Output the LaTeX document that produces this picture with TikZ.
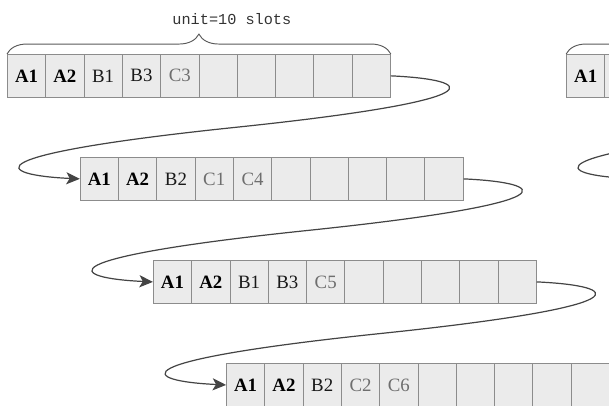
\documentclass[tikz,border=0pt]{standalone}
\usepackage{fontspec}
\setmainfont{Liberation Serif}
\newfontfamily\slotmono{Liberation Mono}
\usetikzlibrary{arrows.meta,calc,decorations.pathreplacing}

\definecolor{slotfill}{HTML}{EBEBEB}
\definecolor{slotline}{HTML}{8C8C8C}
\definecolor{linkline}{HTML}{444444}
\definecolor{ctext}{HTML}{6E6E6E}

\tikzset{
	slot/.style={draw=slotline, fill=slotfill, line width=0.6pt, inner sep=0pt,
		minimum width=1cm, minimum height=1.12cm, anchor=north west,
		font=\fontsize{14}{16}\selectfont},
	sa/.style={font=\fontsize{14}{16}\selectfont\bfseries},
	sb/.style={text=black!90},
	sc/.style={text=ctext},
	se/.style={},
	link/.style={draw=linkline, line width=0.9pt, -{Stealth[length=10pt,width=9pt,inset=2.5pt]}},
	unitbrace/.style={draw=black!65, line width=0.7pt, decorate,
		decoration={brace, amplitude=0.52cm}},
}

% ten slots in a row, named <prefix>-1 ... <prefix>-10
\newcommand{\slotrow}[3]{%
	\foreach \k/\t [count=\i] in {#3}
		\node[slot,s\k] (#1-\i) at ($(#2)+(\i-1,0)$) {\t};
}

\begin{document}
\begin{tikzpicture}
	\useasboundingbox (-0.183,1.41) rectangle (15.718,-9.19);
	\clip (-0.183,1.41) rectangle (15.718,-9.19);

	% first unit
	\slotrow{p}{0,0}{a/A1,a/A2,b/B1,b/B3,c/C3,e/,e/,e/,e/,e/}
	\slotrow{q}{1.9,-2.69}{a/A1,a/A2,b/B2,c/C1,c/C4,e/,e/,e/,e/,e/}
	\slotrow{r}{3.81,-5.38}{a/A1,a/A2,b/B1,b/B3,c/C5,e/,e/,e/,e/,e/}
	\slotrow{s}{5.72,-8.07}{a/A1,a/A2,b/B2,c/C2,c/C6,e/,e/,e/,e/,e/}

	% next unit, cut off at the right
	\slotrow{u}{14.6,0}{a/A1,e/,e/,e/,e/,e/,e/,e/,e/,e/}
	\slotrow{v}{16.5,-2.69}{e/,e/,e/,e/,e/,e/,e/,e/,e/,e/}

	\draw[unitbrace] (p-1.north west) -- (p-10.north east);
	\draw[unitbrace] (u-1.north west) -- (u-10.north east);
	\node[font=\slotmono\fontsize{11.3}{13}\selectfont, text=black!80] (unitlbl) at (5.87,0.91) {unit=10 slots};

	% wrap each row into the next one
	\foreach \a/\b in {p/q,q/r,r/s,u/v}
		\draw[link] (\a-10.east) .. controls +(2.2,-0.1) and +(7,0.73) .. ($(\a-10.east)!0.5!(\b-1.west)$)
			.. controls +(-7,-0.73) and +(-2.2,0.1) .. (\b-1.west);
\end{tikzpicture}
\end{document}
